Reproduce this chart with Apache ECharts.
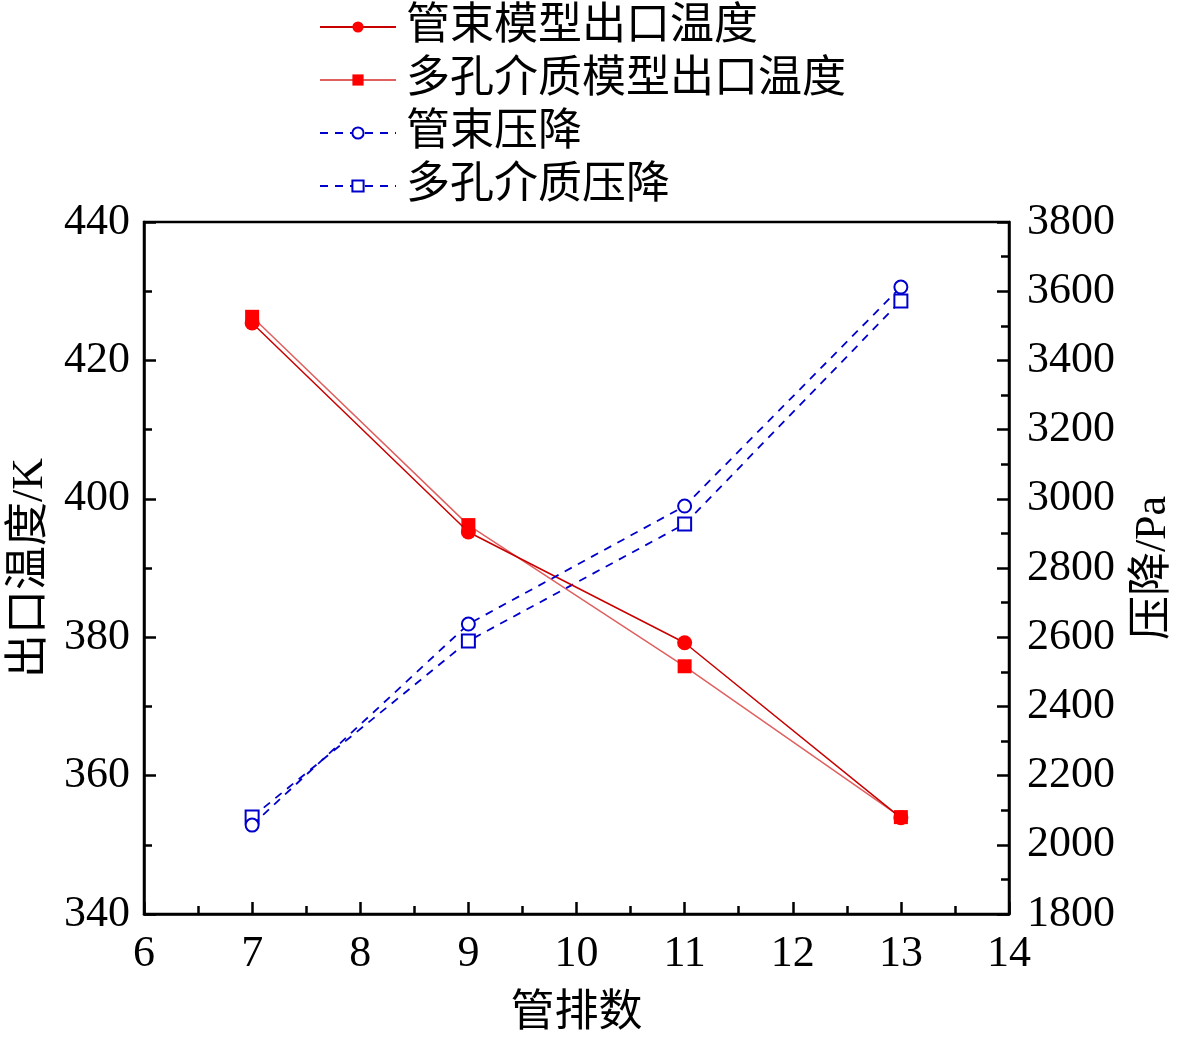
<!DOCTYPE html>
<html lang="zh">
<head>
<meta charset="UTF-8">
<title>管排数</title>
<script src="https://cdn.jsdelivr.net/npm/echarts@6/dist/echarts.min.js"></script>
<style>
    html, body { margin: 0; padding: 0; background: #fff; }
    #chart { width: 1181px; height: 1037px; }
</style>
</head>
<body>
<div id="chart"></div>
<script>
    // 管排数
    var tubeRows = [7, 9, 11, 13];
    // 出口温度 / K
    var tubeTemp = [425.4, 395.2, 379.2, 353.9];
    var porousTemp = [426.3, 396.2, 375.8, 354.0];
    // 压降 / Pa
    var tubeDrop = [2057, 2638, 2979, 3612];
    var porousDrop = [2080, 2589, 2927, 3572];

    var font = '"Liberation Serif", "Times New Roman", "Noto Sans CJK SC", serif';

    function pairs(ys) {
        return tubeRows.map(function (x, i) { return [x, ys[i]]; });
    }

    var axisCommon = {
        axisLine: { show: true, lineStyle: { color: '#000', width: 2.5 } },
        axisTick: { show: true, inside: true, length: 12, lineStyle: { color: '#000', width: 2.5 } },
        minorTick: { show: true, splitNumber: 2, length: 8, lineStyle: { color: '#000', width: 2.5 } },
        splitLine: { show: false },
        axisLabel: {
            color: '#000', fontSize: 44, fontFamily: font, margin: 14,
            formatter: function (v) { return String(v); }   // no thousand separators
        },
        nameTextStyle: { color: '#000', fontSize: 44, fontFamily: font }
    };

    var chart = echarts.init(document.getElementById('chart'));
    var option = {
        animation: false,
        textStyle: { fontFamily: font },
        legend: {
            orient: 'vertical',
            left: 314,
            top: 0,
            itemWidth: 76,
            itemHeight: 14,
            itemGap: 9,
            textStyle: { color: '#000', fontSize: 44, fontFamily: font, padding: [0, 0, 0, 5] },
            data: ['管束模型出口温度', '多孔介质模型出口温度', '管束压降', '多孔介质压降']
        },
        grid: {
            left: 144, right: 172, top: 222, bottom: 123,
            outerBoundsMode: 'none',
            containLabel: false,
            show: true, borderColor: '#000', borderWidth: 2.5
        },
        xAxis: Object.assign({}, axisCommon, {
            type: 'value',
            min: 6, max: 14, interval: 1,
            name: '管排数',
            nameLocation: 'middle',
            nameGap: 78,
            axisLabel: Object.assign({}, axisCommon.axisLabel, { margin: 18 })
        }),
        yAxis: [
            Object.assign({}, axisCommon, {
                type: 'value',
                position: 'left',
                min: 340, max: 440, interval: 20,
                name: '出口温度/K',
                nameLocation: 'middle',
                nameRotate: 90,
                nameGap: 92
            }),
            Object.assign({}, axisCommon, {
                type: 'value',
                position: 'right',
                min: 1800, max: 3800, interval: 200,
                name: '压降/Pa',
                nameLocation: 'middle',
                nameRotate: 90,
                nameGap: 122,
                axisLabel: Object.assign({}, axisCommon.axisLabel, { margin: 18 })
            })
        ],
        series: [
            {
                name: '管束模型出口温度',
                type: 'line',
                yAxisIndex: 0,
                data: pairs(tubeTemp),
                symbol: 'circle',
                symbolSize: 15,
                itemStyle: { color: '#ff0000' },
                lineStyle: { color: '#c80000', width: 1.5 },
                z: 4
            },
            {
                name: '多孔介质模型出口温度',
                type: 'line',
                yAxisIndex: 0,
                data: pairs(porousTemp),
                symbol: 'rect',
                symbolSize: 14,
                itemStyle: { color: '#ff0000' },
                lineStyle: { color: '#e06060', width: 1.5 },
                z: 3
            },
            {
                name: '管束压降',
                type: 'line',
                yAxisIndex: 1,
                data: pairs(tubeDrop),
                symbol: 'emptyCircle',
                symbolSize: 13,
                itemStyle: { color: '#0000cc', borderColor: '#0000cc', borderWidth: 1.5 },
                lineStyle: { color: '#0000cc', width: 1.8, type: [8, 7] },
                z: 4
            },
            {
                name: '多孔介质压降',
                type: 'line',
                yAxisIndex: 1,
                data: pairs(porousDrop),
                symbol: 'emptyRect',
                symbolSize: 13,
                itemStyle: { color: '#0000cc', borderColor: '#0000cc', borderWidth: 1.5 },
                lineStyle: { color: '#0000cc', width: 1.8, type: [8, 7] },
                z: 3
            }
        ]
    };
    chart.setOption(option);
</script>
</body>
</html>
